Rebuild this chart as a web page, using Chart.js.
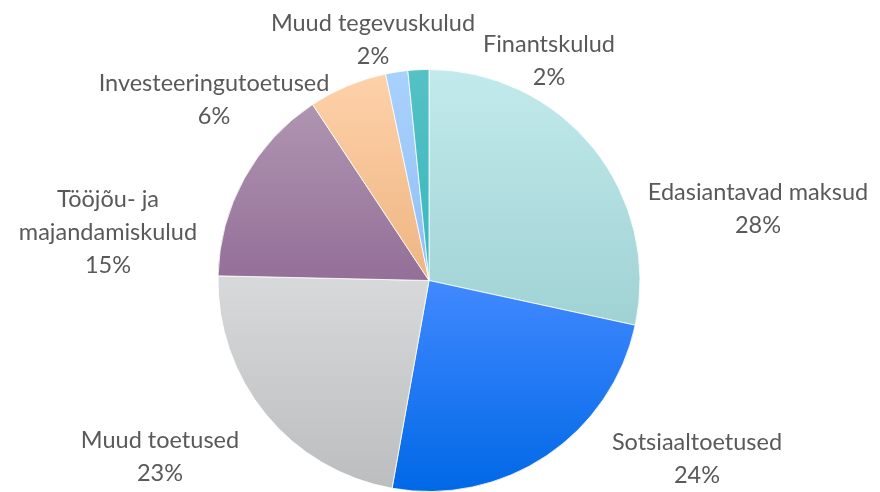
<!DOCTYPE html>
<html lang="et">
<head>
<meta charset="UTF-8">
<title>Kulud</title>
<script src="https://cdn.jsdelivr.net/npm/chart.js"></script>
<style>
  html, body { margin: 0; padding: 0; background: #fff; }
  #wrap { width: 880px; height: 492px; position: relative; }
</style>
</head>
<body>
<div id="wrap"><canvas id="pieChart"></canvas></div>
<script>
// andmed
const categories = ['Edasiantavad maksud', 'Sotsiaaltoetused', 'Muud toetused',
  'Tööjõu- ja majandamiskulud', 'Investeeringutoetused', 'Muud tegevuskulud', 'Finantskulud'];
const values = [28.4, 24.4, 22.55, 15.35, 6.0, 1.7, 1.6];

// värvid (ülemine, alumine)
const topColors = ['#c2eaec', '#4189ff', '#d8d9db', '#af95b1', '#fed1a9', '#a9d1fd', '#55c1c5'];
const bottomColors = ['#a0d2d4', '#0068e6', '#bcbdbf', '#946f98', '#eeb582', '#90bff5', '#38b7bd'];

// sildi read ja asukoht pirukakeskme suhtes
const labelLines = [['Edasiantavad maksud'], ['Sotsiaaltoetused'], ['Muud toetused'],
  ['Tööjõu- ja', 'majandamiskulud'], ['Investeeringutoetused'], ['Muud tegevuskulud'], ['Finantskulud']];
const labelOffsets = [[329, -72], [268, 178], [-269, 176], [-321, -48], [-215, -181], [-56, -241], [120, -220]];

const total = values.reduce((a, b) => a + b, 0);

// gradient iga sektori enda kõrguse ulatuses
function sliceGradient(ctx) {
  const chart = ctx.chart;
  const i = ctx.dataIndex;
  const area = chart.chartArea;
  if (!area || i === undefined) return topColors[i] || '#ccc';
  const cx = (area.left + area.right) / 2;
  const cy = (area.top + area.bottom) / 2;
  const r = Math.min(area.width, area.height) / 2;
  let before = 0;
  for (let k = 0; k < i; k++) before += values[k];
  const a0 = -Math.PI / 2 + before / total * Math.PI * 2;
  const a1 = a0 + values[i] / total * Math.PI * 2;
  let ys = [cy, cy + r * Math.sin(a0), cy + r * Math.sin(a1)];
  [Math.PI / 2, -Math.PI / 2, Math.PI * 1.5].forEach(t => { if (t > a0 && t < a1) ys.push(cy + r * Math.sin(t)); });
  const y0 = Math.min(...ys), y1 = Math.max(...ys);
  const g = chart.ctx.createLinearGradient(0, y0, 0, y1 + 0.01);
  g.addColorStop(0, topColors[i]);
  g.addColorStop(1, bottomColors[i]);
  return g;
}

const labelPlugin = {
  id: 'sildid',
  afterDatasetsDraw(chart) {
    const arc = chart.getDatasetMeta(0).data[0];
    if (!arc) return;
    const c = chart.ctx;
    c.save();
    c.font = '400 23.5px Lato';
    c.fillStyle = '#595959';
    c.textAlign = 'center';
    c.textBaseline = 'middle';
    const lh = 33;
    categories.forEach((name, i) => {
      const lines = labelLines[i].concat([Math.round(values[i] / total * 100) + '%']);
      const bx = arc.x + labelOffsets[i][0];
      const by = arc.y + labelOffsets[i][1] - (lines.length - 1) * lh / 2;
      lines.forEach((t, j) => c.fillText(t, bx, by + j * lh));
    });
    c.restore();
  }
};

new Chart(document.getElementById('pieChart'), {
  type: 'pie',
  data: {
    labels: categories,
    datasets: [{
      data: values,
      backgroundColor: sliceGradient,
      borderColor: 'rgba(255,255,255,0.8)',
      borderWidth: 1
    }]
  },
  options: {
    responsive: true,
    maintainAspectRatio: false,
    animation: false,
    layout: { padding: { top: 69, bottom: -2, left: 0, right: 22 } },
    plugins: {
      legend: { display: false },
      tooltip: { enabled: false }
    }
  },
  plugins: [labelPlugin]
});
</script>
</body>
</html>
